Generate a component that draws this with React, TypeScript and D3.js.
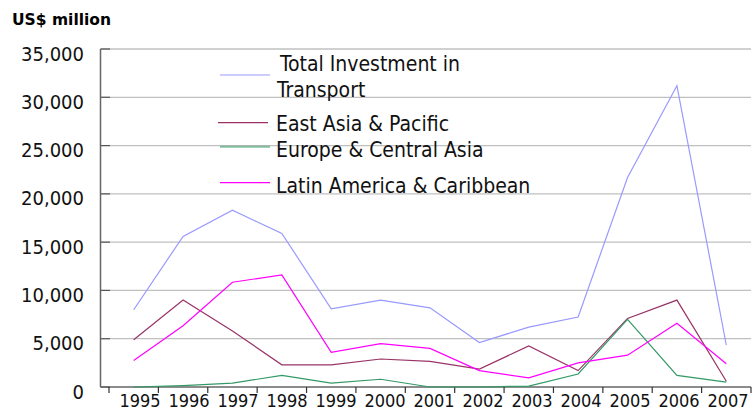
import React from "react";
import * as d3 from "d3";

const years = ["1995","1996","1997","1998","1999","2000","2001","2002","2003","2004","2005","2006","2007"];
const totalTransport = [8000,15600,18300,15900,8100,9000,8200,4600,6200,7250,21700,31200,4350];
const eastAsiaPacific = [4900,9000,5800,2300,2300,2900,2650,1850,4250,1700,7100,9000,600];
const europeCentralAsia = [0,150,400,1200,400,800,0,0,100,1350,7000,1200,500];
const latinAmericaCaribbean = [2750,6350,10850,11600,3600,4500,4000,1700,950,2500,3300,6600,2400];
const yTickValues = [0,5000,10000,15000,20000,25000,30000,35000];
const yTickLabels = ["0","5,000","10,000","15,000","20,000","25.000","30,000","35,000"];

const series = [
  { name: "Total Investment in Transport", lines: ["Total Investment in", "Transport"], values: totalTransport, color: "#9999ff", width: 1.2, legendY: 75, textY: [70.5, 96.5], textX: 280 },
  { name: "East Asia & Pacific", lines: ["East Asia & Pacific"], values: eastAsiaPacific, color: "#993366", width: 1.2, legendY: 122.7, textY: [130.5], textX: 276 },
  { name: "Europe & Central Asia", lines: ["Europe & Central Asia"], values: europeCentralAsia, color: "#339966", width: 1.2, legendY: 146.7, textY: [156.5], textX: 276 },
  { name: "Latin America & Caribbean", lines: ["Latin America & Caribbean"], values: latinAmericaCaribbean, color: "#ff00ff", width: 1.2, legendY: 182.7, textY: [192.5], textX: 276 },
];

const FONT = "'DejaVu Sans Condensed', 'DejaVu Sans', sans-serif";

export default function App() {
  const axisX = 100.5;
  const right = 751;
  const top = 49;
  const bottom = 387;
  const x = d3.scaleBand<string>().domain(years).range([109, right]);
  const xLabel = d3.scalePoint<string>().domain(years).range([140, 728]);
  const y = d3.scaleLinear().domain([0, 35000]).range([bottom, top]);
  const line = (vals: number[]) =>
    d3.line<number>()
      .x((_, i) => (x(years[i]) as number) + x.bandwidth() / 2)
      .y((v) => y(v))(vals) as string;

  return (
    <svg width={753} height={416} style={{ position: "absolute", left: 0, top: 0, background: "#fff" }}>
      <text x={12} y={25} fontFamily="'DejaVu Sans', sans-serif" fontWeight="bold" fontSize={15.5} fill="#000">US$ million</text>
      {yTickValues.map((v, i) => (
        <g key={v}>
          {v > 0 && <line x1={axisX} x2={right} y1={y(v)} y2={y(v)} stroke="#c0c0c0" strokeWidth={1.3} />}
          <line x1={axisX} x2={110} y1={y(v)} y2={y(v)} stroke="#555" strokeWidth={1.2} />
          <text x={84} y={y(v) + 11.5} textAnchor="end" fontFamily={FONT} fontSize={20} fill="#111">{yTickLabels[i]}</text>
        </g>
      ))}
      <line x1={axisX} x2={axisX} y1={top} y2={bottom} stroke="#666" strokeWidth={1.5} />
      <line x1={axisX} x2={right} y1={bottom} y2={bottom} stroke="#666" strokeWidth={1.5} />
      {years.map((yr) => (
        <line key={"t" + yr} x1={(x(yr) as number)} x2={(x(yr) as number)} y1={bottom} y2={bottom + 6} stroke="#333" strokeWidth={1.2} />
      ))}
      <line x1={right} x2={right} y1={bottom} y2={bottom + 6} stroke="#333" strokeWidth={1.2} />
      {years.map((yr) => (
        <text key={"l" + yr} x={xLabel(yr)} y={406.5} textAnchor="middle" fontFamily={FONT} fontSize={18} fill="#111">{yr}</text>
      ))}
      {series.map((s) => (
        <path key={s.name} d={line(s.values)} fill="none" stroke={s.color} strokeWidth={s.width} />
      ))}
      {series.map((s) => (
        <g key={"lg" + s.name}>
          <line x1={s.name.startsWith("East") ? 218 : 220} x2={s.name.startsWith("East") ? 268 : 270} y1={s.legendY} y2={s.legendY}
            stroke={s.color} strokeWidth={s.name.startsWith("Europe") ? 2 : 1.2} strokeOpacity={s.name.startsWith("Europe") ? 0.6 : 1} />
          {s.lines.map((t, j) => (
            <text key={t} x={j === 0 ? s.textX : s.textX - 3} y={s.textY[j]} fontFamily={FONT} fontSize={21} fill="#111">{t}</text>
          ))}
        </g>
      ))}
    </svg>
  );
}
